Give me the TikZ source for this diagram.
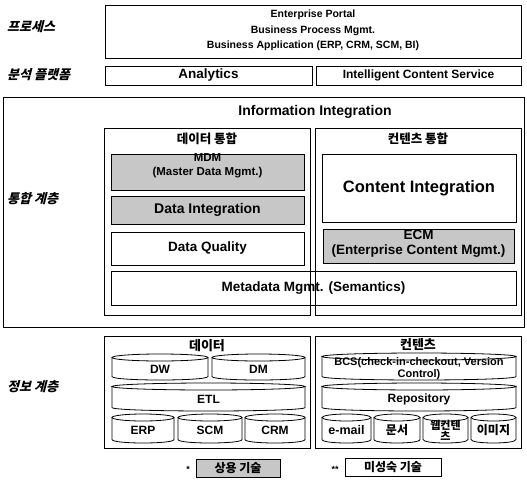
\documentclass[tikz,border=0pt]{standalone}
\usepackage{fontspec}
\setmainfont{Liberation Sans}
\newfontfamily\kr{Noto Sans CJK KR}
\newfontfamily\krslant{Noto Sans CJK KR}[FakeSlant=0.25]

\newcommand\fsz[1]{\fontsize{#1}{#1}\selectfont}

% rectangular block spanning (x1,y1)-(x2,y2)
\newcommand\bx[7][]{%
  \node[box,#1,minimum width={(#5-#3)*1pt},minimum height={(#6-#4)*1pt}]
     (#2) at ({(#3+#5)/2},{(#4+#6)/2}) {#7};}

% drum (database cylinder) spanning (x1,y1)-(x2,y2)
\newcommand\drum[7][]{%
  \draw[drumline] ({(#3+#5)/2},#4+3.5) ellipse [x radius={(#5-#3)/2}, y radius=3.5];
  \draw[drumline] (#3,#4+3.5) -- (#3,#6-3.5)
     .. controls (#3,#6+1.17) and (#5,#6+1.17) .. (#5,#6-3.5) -- (#5,#4+3.5);
  \node[drumtext,#1] (#2) at ({(#3+#5)/2},{(#4+#6)/2+2}) {#7};}

\tikzset{
  box/.style={draw, line width=0.8pt, inner sep=0pt, outer sep=0pt, align=center,
              font=\bfseries\fsz{13}},
  shadebox/.style={box, fill=black!22},
  drumline/.style={line width=0.8pt},
  drumtext/.style={inner sep=0pt, align=center, font=\bfseries\fsz{12}},
  layer/.style={anchor=west, inner sep=0pt, font=\krslant\bfseries\fsz{13}},
  ktitle/.style={inner sep=0pt, font=\kr\bfseries\fsz{12.5}},
  txt/.style={inner sep=0pt, align=center, font=\bfseries\fsz{13}},
}

\begin{document}
\begin{tikzpicture}[x=1pt,y=-1pt]
\useasboundingbox (0,0) rectangle (527,490);
\fill[white] (0,0) rectangle (527,490);

% ---- layer names
\node[layer] (lp) at (7,27) {프로세스};
\node[layer] (la) at (7,75) {분석 플랫폼};
\node[layer] (li) at (7,199) {통합 계층};
\node[layer] (ld) at (7,387) {정보 계층};

% ---- process
\bx{portal}{105}{5}{521}{58}{}
\node[txt, font=\bfseries\fontsize{10.5}{15.5}\selectfont] (portaltxt) at (313,30.5)
  {Enterprise Portal\\Business Process Mgmt.\\Business Application (ERP, CRM, SCM, BI)};

% ---- analysis platform
\bx[font=\bfseries\fsz{13.5}]{analytics}{105}{66}{312}{85}{Analytics}
\bx[font=\bfseries\fsz{12}]{ics}{316}{66}{521}{85}{Intelligent Content Service}

% ---- integration layer
\bx{integ}{3}{97}{524}{327}{}
\node[txt, font=\bfseries\fsz{14}] (infoint) at (315,112) {Information Integration};

\bx{dataint}{104}{128}{310}{315}{}
\node[ktitle] (dataintt) at (207,139) {데이터 통합};
\bx{contint}{315}{128}{521}{315}{}
\node[ktitle] (contintt) at (418,139) {컨텐츠 통합};

\bx[shadebox]{mdm}{111}{154}{304}{190}{}
\node[txt, font=\bfseries\fontsize{11.5}{14}\selectfont] (mdmt) at (207.5,166)
  {MDM\\(Master Data Mgmt.)};
\bx[shadebox, font=\bfseries\fsz{14}]{di}{111}{196}{304}{224}{Data Integration}
\bx[font=\bfseries\fsz{13.5}]{dq}{111}{232}{304}{265}{Data Quality}

\bx[font=\bfseries\fsz{16.5}]{ci}{322}{154}{516}{222}{Content Integration}
\bx[shadebox]{ecm}{323}{229}{514}{263}{}
\node[txt, font=\bfseries\fontsize{13.5}{15}\selectfont] (ecmt) at (418.5,244)
  {ECM\\(Enterprise Content Mgmt.)};

\bx[font=\bfseries\fsz{13.5}]{meta}{111}{271}{516}{305}{Metadata Mgmt. (Semantics)}

% ---- information layer: data
\bx{data}{104}{336}{310}{448}{}
\node[ktitle, font=\kr\bfseries\fsz{13}] (datat) at (207,346) {데이터};
\drum{dw}{112}{354}{208}{380}{DW}
\drum{dm}{212}{354}{305}{380}{DM}
\drum{etl}{112}{383}{305}{411}{ETL}
\drum{erp}{112}{414}{174}{443}{ERP}
\drum{scm}{178}{414}{242}{443}{SCM}
\drum{crm}{245}{414}{305}{443}{CRM}

% ---- information layer: content
\bx{cont}{315}{336}{521}{448}{}
\node[ktitle, font=\kr\bfseries\fsz{13}] (contt) at (418,345) {컨텐츠};
\drum[font=\bfseries\fontsize{11}{11.5}\selectfont]{bcs}{322}{353}{516}{380}
  {BCS(check-in-checkout, Version\\Control)}
\drum{repo}{322}{383}{516}{411}{Repository}
\drum[font=\bfseries\fsz{12.5}]{mail}{322}{414}{371}{443}{e-mail}
\drum[font=\kr\bfseries\fsz{12}]{doc}{374}{414}{420}{443}{문서}
\drum[font=\kr\bfseries\fontsize{11}{11.5}\selectfont]{web}{423}{414}{468}{443}
  {웹컨텐\\츠}
\drum[font=\kr\bfseries\fsz{12}]{img}{471}{414}{516}{443}{이미지}

% ---- legend
\node[inner sep=0pt, font=\bfseries\fsz{9}] (star1) at (188,469) {*};
\bx[shadebox, font=\kr\bfseries\fsz{12}]{leg1}{196}{459}{280}{477}{상용 기술}
\node[inner sep=0pt, font=\bfseries\fsz{9}] (star2) at (335,469) {**};
\bx[font=\kr\bfseries\fsz{12}]{leg2}{345}{458}{441}{476}{미성숙 기술}
\end{tikzpicture}
\end{document}
